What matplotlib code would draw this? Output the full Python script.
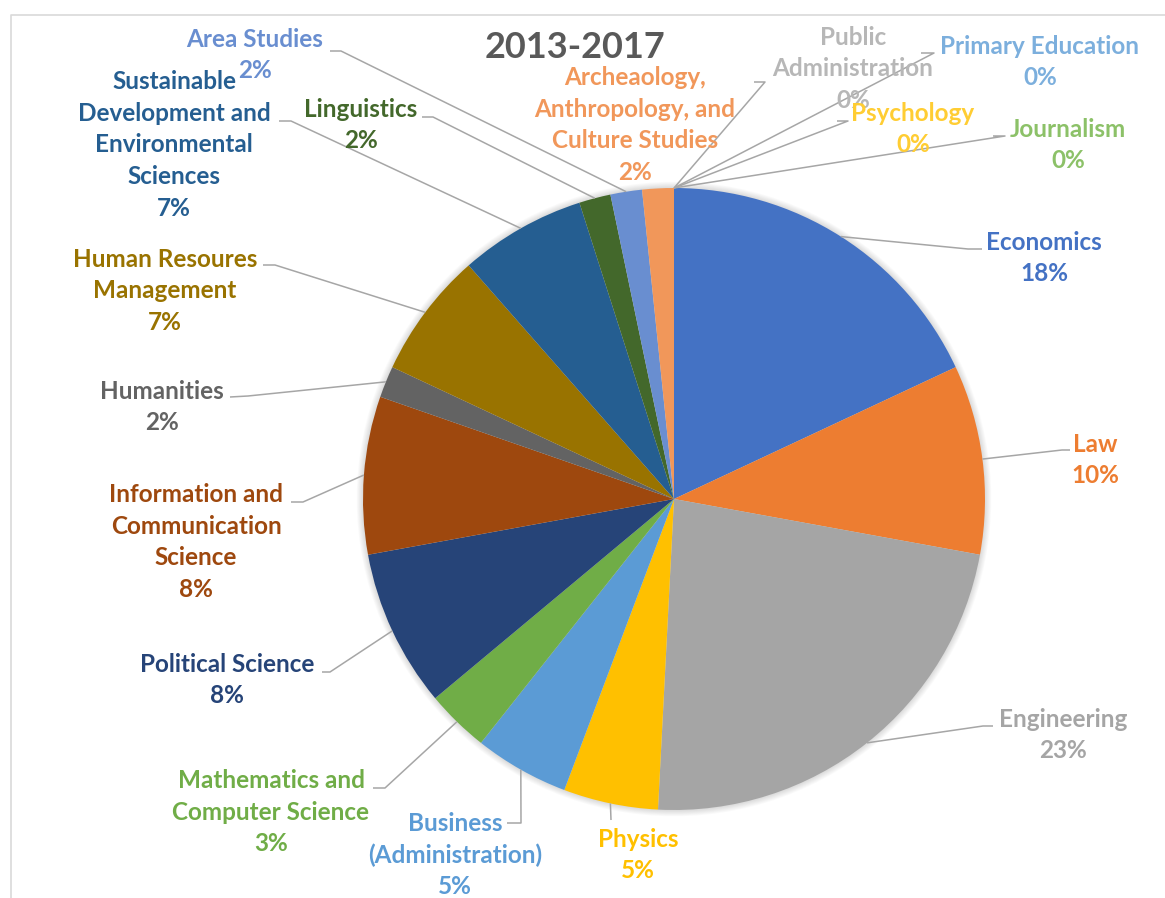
import numpy as np
import matplotlib
matplotlib.use("Agg")
import matplotlib.pyplot as plt
from matplotlib.patches import Circle

plt.rcParams['font.family'] = ['Lato', 'DejaVu Sans']

# ---- data -------------------------------------------------------------
categories = [
    "Economics", "Law", "Engineering", "Physics",
    "Business\n(Administration)", "Mathematics and\nComputer Science",
    "Political Science", "Information and\nCommunication\nScience",
    "Humanities", "Human Resoures\nManagement",
    "Sustainable\nDevelopment and\nEnvironmental\nSciences",
    "Linguistics", "Area Studies",
    "Archeaology,\nAnthropology, and\nCulture Studies",
    "Public\nAdministration", "Psychology", "Primary Education", "Journalism",
]
counts = [11, 6, 14, 3, 3, 2, 5, 5, 1, 4, 4, 1, 1, 1, 0, 0, 0, 0]
colors = [
    "#4472C4", "#ED7D31", "#A5A5A5", "#FFC000", "#5B9BD5", "#70AD47",
    "#264478", "#9E480E", "#636363", "#997300", "#255E91", "#43682B",
    "#698ED0", "#F1975A", "#B7B7B7", "#FFCD33", "#7CAFDD", "#8CC168",
]
title = "2013-2017"

# ---- layout (pixel coordinates, y measured from the top) -------------
W, H = 1165, 898
cx, cy, R = 674, 499, 311

label_pos = [
    (1044, 258), (1095, 460), (1063, 735), (638, 855), (455, 855),
    (271, 812), (227, 680), (196, 542), (162, 407), (165, 291),
    (174, 145), (361, 125), (255, 55), (635, 125), (853, 69),
    (913, 129), (1040, 62), (1068, 145),
]
# leader lines: elbow point then end point near the label (None = no line)
leaders = [
    [(968, 249), (982, 249)],
    [(1062, 450), (1070, 450)],
    [(983, 726), (993, 726)],
    [(611, 820)],
    [(521, 823), (507, 823)],
    [(385, 788), (373, 788)],
    [(330, 672), (322, 672)],
    [(303, 502), (291, 502)],
    [(248, 396), (230, 397)],
    [(275, 265), (263, 265)],
    [(291, 121), (279, 121)],
    [(433, 117), (422, 117)],
    [(341, 51), (330, 51)],
    None,
    [(765, 82), (754, 82)],
    [(848, 121), (837, 121)],
    [(934, 53), (921, 53)],
    [(1005, 136), (993, 136)],
]


def fy(py):
    return H - py


fig = plt.figure(figsize=(W / 100, H / 100), dpi=100)
fig.patch.set_facecolor("white")
ax = fig.add_axes([0, 0, 1, 1])

# soft glow around the pie
for i in range(7, 0, -1):
    ax.add_patch(Circle((cx, fy(cy)), R + i * 0.9, color="black",
                        alpha=0.018, lw=0, zorder=0))

wedges, _ = ax.pie(
    counts, colors=colors, startangle=90, counterclock=False,
    center=(cx, fy(cy)), radius=R,
    wedgeprops=dict(linewidth=0, antialiased=True),
)
for w in wedges:
    w.set_zorder(1)

total = float(sum(counts))
cum = 0.0
for name, v, col, (lx, ly), ld in zip(categories, counts, colors,
                                       label_pos, leaders):
    start = 90 - 360 * cum / total
    mid = np.deg2rad(start - 180 * v / total)
    cum += v
    pct = int(round(100 * v / total))
    ax.text(lx, fy(ly), f"{name}\n{pct}%", color=col, fontsize=17.5,
            fontweight="bold", ha="center", va="center",
            multialignment="center", linespacing=1.45, zorder=3)
    if ld is not None:
        xs = [cx + R * np.cos(mid)] + [p[0] for p in ld]
        ys = [fy(cy) + R * np.sin(mid)] + [fy(p[1]) for p in ld]
        ax.plot(xs, ys, color="#A6A6A6", lw=1.1, zorder=2,
                solid_capstyle="butt")

ax.text(575, fy(47), title, color="#595959", fontsize=26,
        fontweight="bold", ha="center", va="center", zorder=3)

# chart frame (top and left edges visible)
ax.plot([11, 11, W + 5], [fy(H + 5), fy(15), fy(15)], color="#D9D9D9",
        lw=1.2, zorder=0)

ax.set_xlim(0, W)
ax.set_ylim(0, H)
ax.set_aspect("equal")
ax.axis("off")

fig.savefig("out.png", dpi=100, facecolor="white")
